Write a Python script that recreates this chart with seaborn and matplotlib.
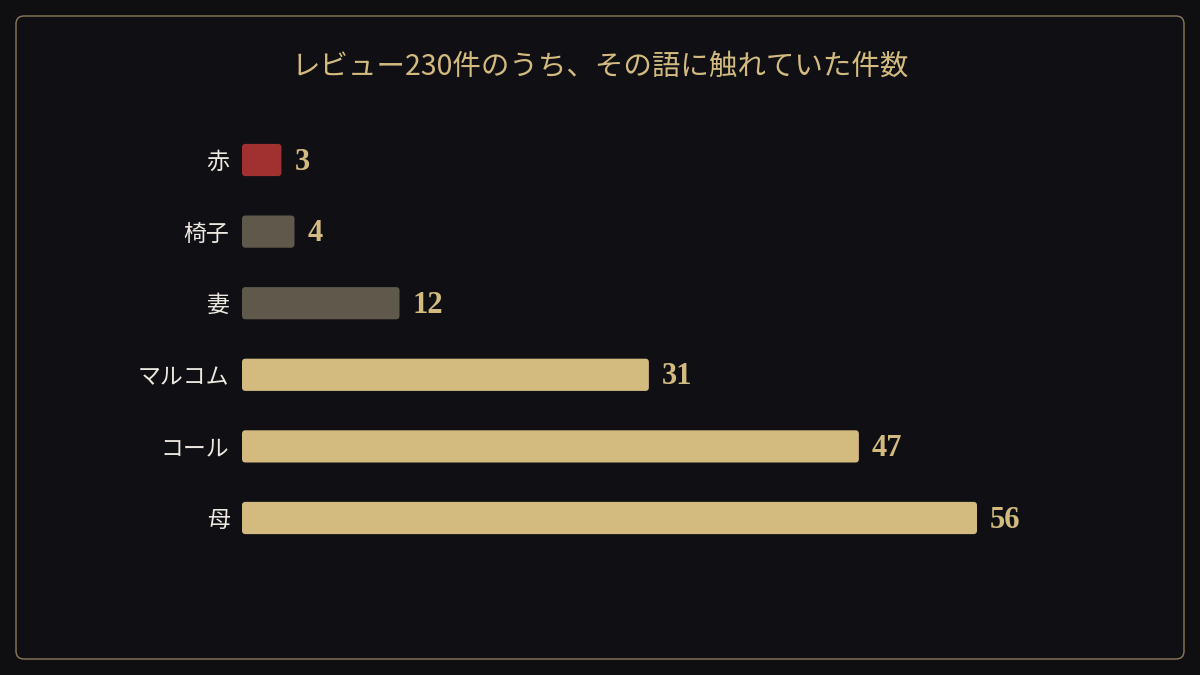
import matplotlib
matplotlib.use("Agg")
import matplotlib.pyplot as plt
import seaborn as sns
import pandas as pd
from matplotlib.patches import FancyBboxPatch

# データ
words = ["赤", "椅子", "妻", "マルコム", "コール", "母"]
counts = [3, 4, 12, 31, 47, 56]
bar_colors = ["#a13131", "#5f594c", "#5f594c", "#d3bb80", "#d3bb80", "#d3bb80"]
title = "レビュー230件のうち、その語に触れていた件数"

df = pd.DataFrame({"word": words, "count": counts})

BG = "#0f0f12"
GOLD = "#d3bb80"

sns.set_theme(style="white")
plt.rcParams["font.family"] = ["Noto Sans CJK JP", "DejaVu Sans"]

fig = plt.figure(figsize=(12, 6.75), dpi=100, facecolor=BG)

# 外枠
frame = FancyBboxPatch((0.16, 0.16), 11.68, 6.43,
                       boxstyle="round,pad=0,rounding_size=0.08",
                       transform=fig.dpi_scale_trans, facecolor="#101014",
                       edgecolor="#8a7b5a", linewidth=1.0, zorder=-1)
fig.patches.append(frame)

ax = fig.add_axes([242 / 1200, 1 - 553.8 / 675, 858 / 1200, (553.8 - 124.2) / 675])
ax.set_facecolor("none")

sns.barplot(data=df, x="count", y="word", hue="word", palette=bar_colors,
            legend=False, orient="h", width=0.45, saturation=1, ax=ax)

ax.set_xlim(0, 858 / 13.125)
ax.set_ylim(5.5, -0.5)

# 角丸バーに置き換え
x_per_px = 1 / 13.125
y_per_px = 1 / 71.6
for p in list(ax.patches):
    x0, y0 = p.get_x(), p.get_y()
    w, h = p.get_width(), p.get_height()
    fc = p.get_facecolor()
    p.remove()
    rb = FancyBboxPatch((x0, y0), w, h,
                        boxstyle="round,pad=0,rounding_size=%f" % (3.5 * x_per_px),
                        mutation_aspect=y_per_px / x_per_px,
                        facecolor=fc, edgecolor="none", zorder=2)
    ax.add_patch(rb)

for i, v in enumerate(counts):
    ax.text(v + 13 * x_per_px, i + 0.03, str(v), va="center", ha="left",
            fontsize=22, fontweight="bold", color=GOLD,
            family=["Liberation Serif", "DejaVu Serif"])

ax.set_xlabel("")
ax.set_ylabel("")
ax.set_xticks([])
ax.tick_params(axis="y", length=0, pad=9, labelsize=16.5, labelcolor="#ece8e0")
for s in ax.spines.values():
    s.set_visible(False)

fig.text(0.5, 1 - 67 / 675, title, ha="center", va="center",
         fontsize=20.5, color=GOLD)

fig.savefig("out.png", dpi=100, facecolor=BG)
